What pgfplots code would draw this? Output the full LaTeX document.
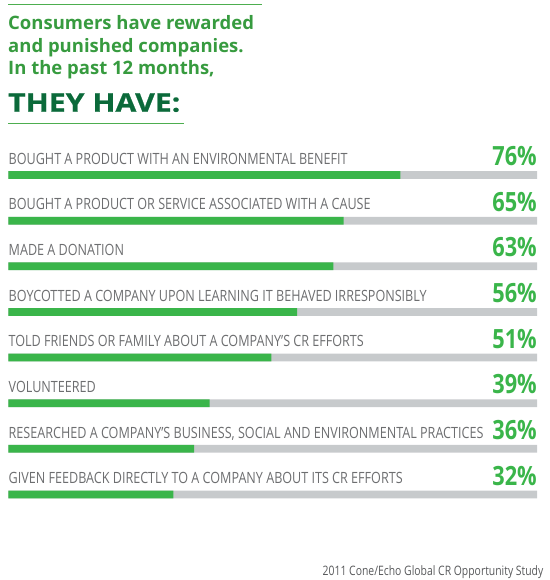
\documentclass[border=0pt]{standalone}
\usepackage{pgfplots}
\pgfplotsset{compat=1.18}
\usepackage{fontspec}
\setmainfont{Open Sans}
\newfontfamily\labelfont[FakeStretch=0.812]{Open Sans}
\newfontfamily\footfont[FakeStretch=0.8]{Open Sans}
\newfontfamily\pctfont[FakeStretch=0.82]{Open Sans}
\newfontfamily\titlefont{Open Sans}
\newfontfamily\headfont[FakeStretch=1.18,FakeBold=0.8]{Open Sans}
\definecolor{bargreen}{HTML}{3AB54A}
\definecolor{track}{HTML}{C7CACC}
\definecolor{labelgray}{HTML}{6D6E70}
\definecolor{titlegreen}{HTML}{379B3F}
\definecolor{darkgreen}{HTML}{0B6A3A}
\definecolor{linegreen}{HTML}{4DAE4F}
\definecolor{footgray}{HTML}{58595B}
\pgfplotstableread{
y val
0 76
1 65
2 63
3 56
4 51
5 39
6 36
7 32
}\datatable
\pgfplotstableread{
y val
0 102.5
1 102.5
2 102.5
3 102.5
4 102.5
5 102.5
6 102.5
7 102.5
}\tracktable
\tikzset{
  lab/.style={anchor=base west, inner sep=0, text=labelgray, font=\labelfont\fontsize{15.5}{18}\selectfont, yshift=10.7pt},
  pct/.style={anchor=base east, inner sep=0, text=bargreen, font=\pctfont\bfseries\fontsize{26.5}{30}\selectfont, yshift=9.3pt},
  ttl/.style={anchor=base west, inner sep=0, text=titlegreen, font=\titlefont\bfseries\fontsize{18.5}{22.5}\selectfont}
}
\begin{document}
\begin{tikzpicture}
\path[use as bounding box] (0pt,0pt) rectangle (549pt,580pt);
% header
\draw[linegreen, line width=1.2pt] (8pt,575.7pt) -- (262pt,575.7pt);
\node[ttl] at (8pt,550pt) {Consumers have rewarded};
\node[ttl] at (8pt,527pt) {and punished companies.};
\node[ttl] at (8pt,505pt) {In the past 12 months,};
\node[anchor=base west, inner sep=0, text=darkgreen, font=\headfont\bfseries\fontsize{25.6}{30}\selectfont] at (8pt,468.3pt) {THEY HAVE:};
\draw[linegreen, line width=1.2pt] (8pt,456.7pt) -- (184pt,456.7pt);
\begin{axis}[
  at={(8.5pt,427.8pt)}, anchor=north west,
  width=528.5pt, height=365.1pt, scale only axis,
  xmin=0, xmax=102.5, ymin=-0.5, ymax=7.5,
  y dir=reverse,
  axis lines=none,
  xbar, bar width=7.7pt, bar shift=0pt,
  ytick=\empty, xtick=\empty,
  clip=false,
]
\addplot[fill=track, draw=none] table[x=val, y=y] {\tracktable};
\addplot[fill=bargreen, draw=none] table[x=val, y=y] {\datatable};
\node[lab] at (axis cs:0,0) {BOUGHT A PRODUCT WITH AN ENVIRONMENTAL BENEFIT};
\node[lab] at (axis cs:0,1) {BOUGHT A PRODUCT OR SERVICE ASSOCIATED WITH A CAUSE};
\node[lab] at (axis cs:0,2) {MADE A DONATION};
\node[lab] at (axis cs:0,3) {BOYCOTTED A COMPANY UPON LEARNING IT BEHAVED IRRESPONSIBLY};
\node[lab] at (axis cs:0,4) {TOLD FRIENDS OR FAMILY ABOUT A COMPANY’S CR EFFORTS};
\node[lab] at (axis cs:0,5) {VOLUNTEERED};
\node[lab] at (axis cs:0,6) {RESEARCHED A COMPANY’S BUSINESS, SOCIAL AND ENVIRONMENTAL PRACTICES};
\node[lab] at (axis cs:0,7) {GIVEN FEEDBACK DIRECTLY TO A COMPANY ABOUT ITS CR EFFORTS};
\node[pct] at (axis cs:102.5,0) {76\%};
\node[pct] at (axis cs:102.5,1) {65\%};
\node[pct] at (axis cs:102.5,2) {63\%};
\node[pct] at (axis cs:102.5,3) {56\%};
\node[pct] at (axis cs:102.5,4) {51\%};
\node[pct] at (axis cs:102.5,5) {39\%};
\node[pct] at (axis cs:102.5,6) {36\%};
\node[pct] at (axis cs:102.5,7) {32\%};
\end{axis}
\node[anchor=base east, inner sep=0, text=footgray, font=\footfont\fontsize{13}{15}\selectfont] at (543.5pt,5pt) {2011 Cone/Echo Global CR Opportunity Study};
\end{tikzpicture}
\end{document}
